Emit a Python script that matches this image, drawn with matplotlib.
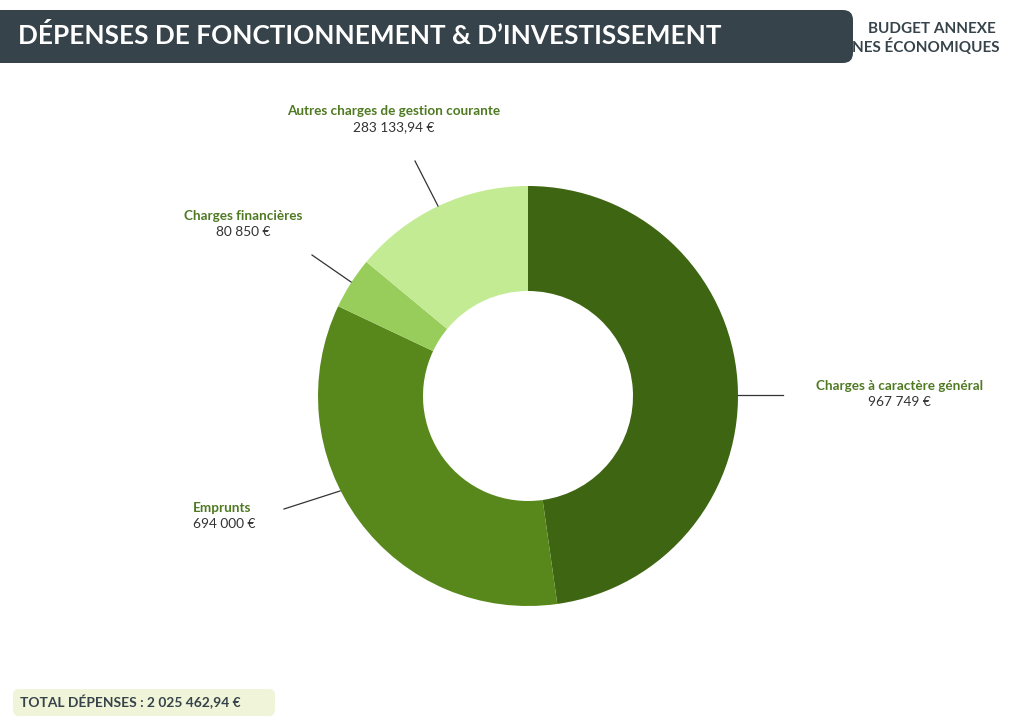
import matplotlib
matplotlib.use("Agg")
import matplotlib.pyplot as plt
from matplotlib.patches import FancyBboxPatch

categories = ["Charges à caractère général", "Emprunts", "Charges financières",
              "Autres charges de gestion courante"]
values = [967749, 694000, 80850, 283133.94]
value_labels = ["967 749 €", "694 000 €", "80 850 €", "283 133,94 €"]
colors = ["#3e6511", "#58881c", "#98cd5b", "#c3eb93"]
title = "DÉPENSES DE FONCTIONNEMENT & D’INVESTISSEMENT"
subtitle = ["BUDGET ANNEXE", "NES ÉCONOMIQUES"]
total_label = "TOTAL DÉPENSES : 2 025 462,94 €"

FONT = ["Lato", "DejaVu Sans"]
W, H = 1024, 724
fig = plt.figure(figsize=(W / 100, H / 100), dpi=100)
ax = fig.add_axes([0, 0, 1, 1])
ax.set_xlim(0, W)
ax.set_ylim(0, H)
ax.set_aspect("equal")
ax.axis("off")

def Y(y):
    return H - y

# Header bar
bar = FancyBboxPatch((-20, Y(63)), 873, 53, boxstyle="round,pad=0,rounding_size=10",
                     fc="#36434b", ec="none", zorder=3)
ax.add_patch(bar)
ax.text(18, Y(36), title, color="white", fontsize=18.8, fontweight="bold",
        family=FONT, va="center", ha="left", zorder=4)
ax.text(996, Y(29), subtitle[0], color="#36434b", fontsize=11, fontweight="bold",
        family=FONT, va="center", ha="right", zorder=2)
ax.text(1000, Y(47), subtitle[1], color="#36434b", fontsize=11, fontweight="bold",
        family=FONT, va="center", ha="right", zorder=2)

# Donut
cx, cy, R = 528, Y(396), 210
ax.pie(values, colors=colors, startangle=90, counterclock=False, center=(cx, cy),
       radius=R, wedgeprops=dict(width=105, edgecolor="none"), frame=True)
ax.set_xlim(0, W)
ax.set_ylim(0, H)
ax.axis("off")

# Leader lines and labels
leaders = [((738, 395), (783, 395)), ((340, 491), (284, 509)),
           ((351, 282), (312, 255)), ((438, 206), (415, 161))]
label_pos = [(899, 386, "center"), (193, 508, "left"), (243, 216, "center"),
             (394, 111, "center")]
for (p0, p1) in leaders:
    ax.plot([p0[0], p1[0]], [Y(p0[1]), Y(p1[1])], color="#333333", lw=0.9, zorder=5)
for cat, val, (x, y, ha) in zip(categories, value_labels, label_pos):
    ax.text(x, Y(y), cat, color="#4f7a22", fontsize=9.7, fontweight="bold",
            family=FONT, ha=ha, va="center")
    ax.text(x, Y(y + 16), val, color="#333333", fontsize=9.9,
            family=FONT, ha=ha, va="center")

# Total box
box = FancyBboxPatch((13, Y(716)), 262, 27, boxstyle="round,pad=0,rounding_size=6",
                     fc="#f0f4d8", ec="none", zorder=3)
ax.add_patch(box)
ax.text(20, Y(702), total_label, color="#36434b", fontsize=9.9, fontweight="bold",
        family=FONT, ha="left", va="center", zorder=4)

fig.savefig("out.png", dpi=100)
